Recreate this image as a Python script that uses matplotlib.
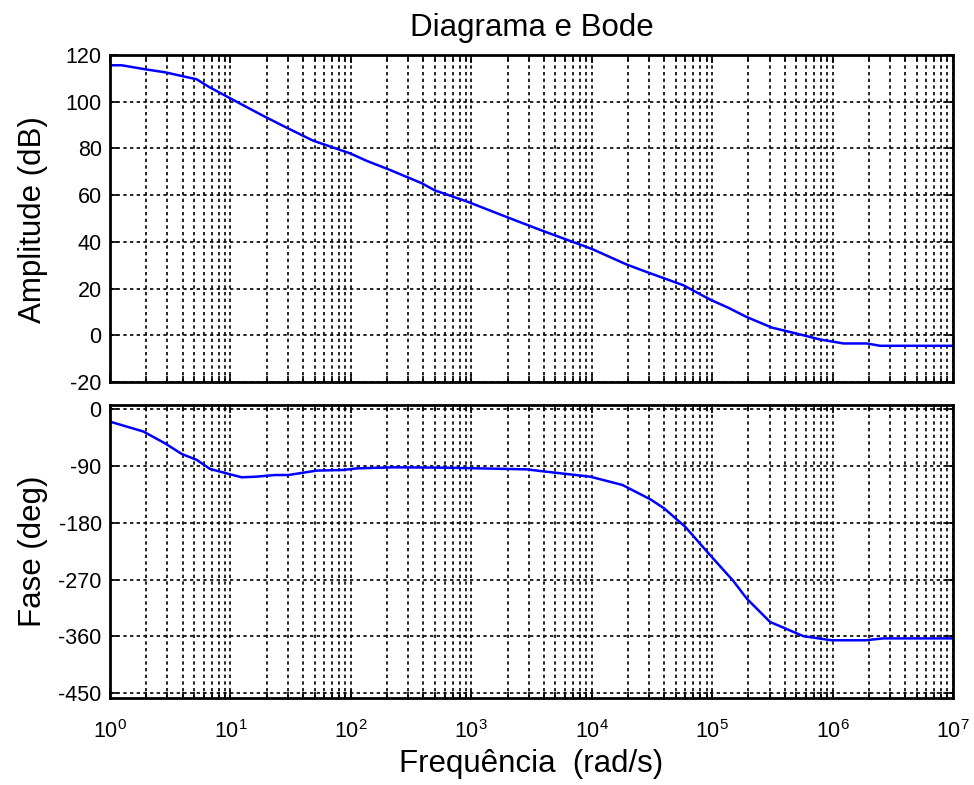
import matplotlib
matplotlib.use("Agg")
import matplotlib.pyplot as plt
from matplotlib.ticker import NullFormatter

plt.rcParams['font.family'] = ['Liberation Sans', 'DejaVu Sans']
plt.rcParams['mathtext.fontset'] = 'custom'
plt.rcParams['mathtext.rm'] = 'Liberation Sans'
plt.rcParams['mathtext.it'] = 'Liberation Sans:italic'
plt.rcParams['mathtext.bf'] = 'Liberation Sans:bold'
plt.rcParams['axes.unicode_minus'] = False

# Magnitude response (rad/s, dB)
freq_mag = [1, 1.25, 1.95, 2.86, 5.25, 6.6, 10, 18.8, 29, 48.7, 98.5, 135, 211,
            388, 500, 918, 1974, 3970, 1e4, 1.95e4, 2.86e4, 5.78e4, 9.62e4,
            1.36e5, 1.94e5, 3.13e5, 5.73e5, 7.89e5, 1.23e6, 1.93e6, 2.48e6, 1e7]
mag_db = [115.6, 115.6, 113.9, 112.6, 109.6, 106.4, 101.4, 93.9, 89.0, 83.3,
          77.9, 74.7, 70.8, 65.1, 62.0, 57.3, 50.6, 44.6, 37.0, 30.3, 27.1,
          21.4, 15.3, 11.8, 7.8, 3.3, 0.0, -1.8, -3.5, -3.5, -4.5, -4.5]

# Phase response (rad/s, degrees)
freq_ph = [1, 1.89, 2.86, 3.94, 5.25, 6.77, 10, 12.4, 16.5, 23.5, 30.3, 52,
           86.6, 112, 226, 626, 2880, 3720, 9700, 1.8e4, 3.1e4, 4.0e4, 5.97e4,
           9.62e4, 1.5e5, 1.94e5, 3.03e5, 5.73e5, 9.8e5, 1.87e6, 2.64e6, 1e7]
phase_deg = [-19.4, -35, -53.7, -70.6, -80, -94.4, -103, -107.6, -106.6, -104,
             -104, -97, -96, -93.5, -91.8, -92.4, -95, -97.6, -106.6, -119.8,
             -143, -157, -186, -231, -272, -300, -337, -359.5, -366, -366,
             -363, -363]

decades = list(range(0, 8))
freq_ticks = [10.0 ** k for k in decades]
freq_tick_labels = [r'$10^{%d}$' % k for k in decades]
freq_minor = [m * 10.0 ** k for k in decades[:-1] for m in range(2, 10)]
mag_ticks = [-20, 0, 20, 40, 60, 80, 100, 120]
phase_ticks = [-450, -360, -270, -180, -90, 0]

W, H = 974, 785
fig = plt.figure(figsize=(W / 100, H / 100), dpi=100)

left, right = 110 / W, 953 / W
ax1 = fig.add_axes([left, 1 - 382 / H, right - left, (382 - 55) / H])
ax2 = fig.add_axes([left, 1 - 698 / H, right - left, (698 - 405) / H])

ax1.semilogx(freq_mag, mag_db, color='#0000ff', lw=1.8)
ax2.semilogx(freq_ph, phase_deg, color='#0000ff', lw=1.8)

ax1.set_ylim(-20, 120)
ax1.set_yticks(mag_ticks)
ax2.set_ylim(-457.5, 7)
ax2.set_yticks(phase_ticks)

for ax in (ax1, ax2):
    ax.set_xlim(1, 1e7)
    ax.set_xticks(freq_ticks)
    ax.set_xticks(freq_minor, minor=True)
    ax.xaxis.set_minor_formatter(NullFormatter())
    ax.grid(True, which='major', axis='both', ls=(0, (2, 2)), color='k', lw=1.2)
    ax.grid(True, which='minor', axis='x', ls=(0, (2, 2)), color='k', lw=1.2)
    ax.tick_params(which='both', direction='in', top=True, right=True,
                   labelsize=15.5, width=1.2, colors='k')
    ax.tick_params(which='major', length=6)
    ax.tick_params(which='minor', length=4)
    ax.tick_params(axis='y', pad=6)
    for s in ax.spines.values():
        s.set_linewidth(2.0)
        s.set_color('k')

ax1.set_xticklabels([])
ax1.tick_params(labelbottom=False)
ax2.set_xticklabels(freq_tick_labels)
ax2.tick_params(axis='x', pad=16)

cx = (110 + 953) / 2 / W
fig.text(cx, 1 - 28 / H, 'Diagrama e Bode', ha='center', va='center',
         fontsize=22.5)
fig.text(33 / W, 1 - 220 / H, 'Amplitude (dB)', rotation=90, ha='center',
         va='center', fontsize=22.5)
fig.text(33 / W, 1 - 551 / H, 'Fase (deg)', rotation=90, ha='center',
         va='center', fontsize=22.5)
fig.text(cx, 1 - 764 / H, 'Frequência  (rad/s)', ha='center', va='center',
         fontsize=22.5)

fig.savefig('out.png', dpi=100)
